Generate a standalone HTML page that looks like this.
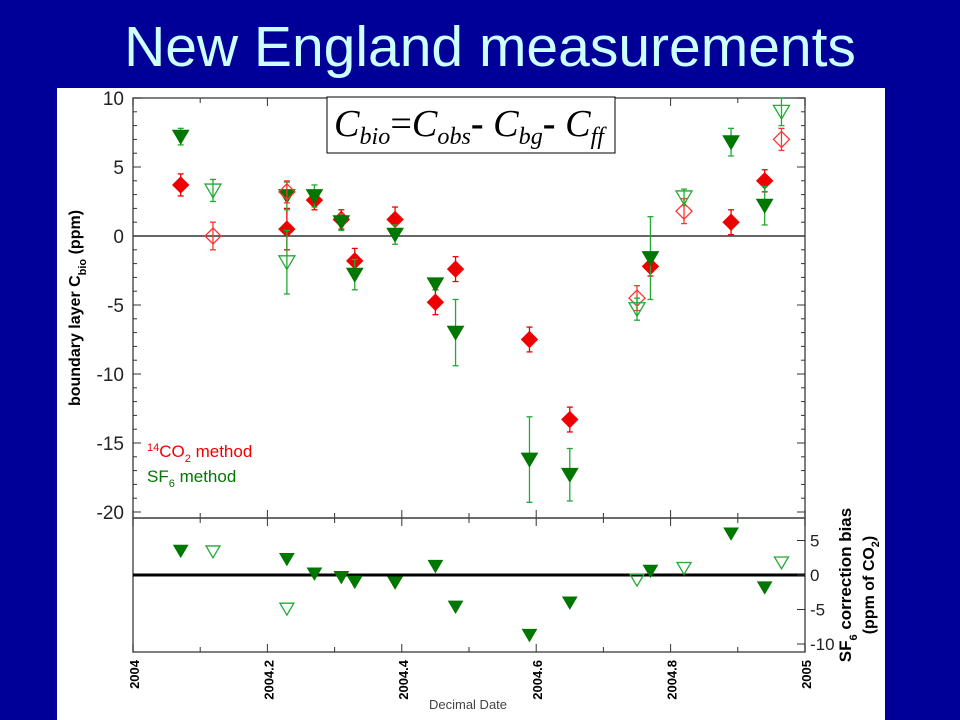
<!DOCTYPE html>
<html><head><meta charset="utf-8"><style>
html,body{margin:0;padding:0;background:#000099;width:960px;height:720px;overflow:hidden}
svg{display:block;font-family:"Liberation Sans",sans-serif}
</style></head><body>
<svg id="c" width="960" height="720">
<rect x="0" y="0" width="960" height="720" fill="#000099"/>
<text x="490" y="66" text-anchor="middle" font-size="57" fill="#ccffff">New England measurements</text>
<rect x="57" y="88" width="828" height="632" fill="#fff"/>
<g id="top"></g>
<g id="bot"></g>
<g>
<rect x="327" y="97" width="288" height="56" fill="#fff" stroke="#000" stroke-width="1"/>
<text x="334" y="136" font-family="Liberation Serif,serif" font-style="italic" font-size="38" textLength="270" lengthAdjust="spacingAndGlyphs">C<tspan font-size="24" dy="8">bio</tspan><tspan dy="-8" font-style="normal">=</tspan>C<tspan font-size="24" dy="8">obs</tspan><tspan dy="-8" font-style="normal" font-weight="bold">-</tspan> C<tspan font-size="24" dy="8">bg</tspan><tspan dy="-8" font-style="normal" font-weight="bold">-</tspan> C<tspan font-size="24" dy="8">ff</tspan></text>
</g>
<text x="147" y="457" font-size="17" fill="#ee0000"><tspan font-size="11" dy="-6">14</tspan><tspan dy="6">CO</tspan><tspan font-size="11" dy="5">2</tspan><tspan dy="-5"> method</tspan></text>
<text x="147" y="482" font-size="17" fill="#007700">SF<tspan font-size="11" dy="5">6</tspan><tspan dy="-5"> method</tspan></text>
<text transform="translate(80,308) rotate(-90)" text-anchor="middle" font-size="16" font-weight="bold">boundary layer C<tspan font-size="11" dy="6">bio</tspan><tspan dy="-6">  (ppm)</tspan></text>
<text transform="translate(851,585) rotate(-90)" text-anchor="middle" font-size="17" font-weight="bold">SF<tspan font-size="11" dy="6">6</tspan><tspan dy="-6"> correction bias</tspan></text>
<text transform="translate(874,585) rotate(-90)" text-anchor="middle" font-size="16" font-weight="bold">(ppm of CO<tspan font-size="11" dy="5">2</tspan><tspan dy="-5">)</tspan></text>
<text x="468" y="709" text-anchor="middle" font-size="13" fill="#444">Decimal Date</text>
</svg>
<script>
const dates=[2004.071,2004.119,2004.229,2004.229,2004.270,2004.310,2004.330,2004.390,2004.450,2004.480,2004.590,2004.650,2004.750,2004.770,2004.820,2004.890,2004.940,2004.965];
const sf6=[7.2,3.3,2.9,-1.9,2.9,1.0,-2.8,0.1,-3.5,-7.0,-16.2,-17.3,-5.3,-1.6,2.8,6.8,2.2,9.0];
const sf6Err=[0.6,0.8,1.0,2.3,0.8,0.6,1.1,0.7,0.4,2.4,3.1,1.9,0.8,3.0,0.6,1.0,1.4,1.0];
const co2=[3.7,0.0,0.5,3.2,2.6,1.2,-1.8,1.2,-4.8,-2.4,-7.5,-13.3,-4.5,-2.2,1.8,1.0,4.0,7.0];
const co2Err=[0.8,1.0,1.5,0.8,0.7,0.7,0.9,0.9,0.9,0.9,0.9,0.9,0.9,0.7,0.9,0.9,0.8,0.8];
const bias=[3.5,3.4,2.3,-4.9,0.2,-0.3,-1.0,-1.1,1.3,-4.6,-8.7,-4.0,-0.7,0.6,1.0,6.0,-1.8,1.8];
const filled=[1,0,1,0,1,1,1,1,1,1,1,1,0,1,0,1,1,0];
const xTicks=["2004","2004.2","2004.4","2004.6","2004.8","2005"];
const yTicks=[10,5,0,-5,-10,-15,-20];
const y2Ticks=[5,0,-5,-10];
const NS="http://www.w3.org/2000/svg";
const X=v=>133+(v-2004)*672;
const Y=v=>236-v*13.8;
const Y2=v=>575-v*6.9;
const gTop=document.getElementById('top'),gBot=document.getElementById('bot');
function mk(p,t,a){const e=document.createElementNS(NS,t);for(const k in a)e.setAttribute(k,a[k]);p.appendChild(e);return e;}
let f=mk(gTop,'rect',{x:133,y:98,width:672,height:420,fill:'none',stroke:'#555','stroke-width':1.5});


f=mk(gBot,'rect',{x:133,y:518,width:672,height:134,fill:'none',stroke:'#555','stroke-width':1.5});


let z=mk(gTop,'line',{x1:133,x2:805,y1:Y(0),y2:Y(0),stroke:'#333','stroke-width':1.5});


z=mk(gBot,'line',{x1:133,x2:805,y1:Y2(0),y2:Y2(0),stroke:'#000','stroke-width':3});


for(let i=0;i<=10;i++){const x=133+i*67.2;const L=i%2?5:8;
mk(gTop,'line',{x1:x,x2:x,y1:98,y2:98+L,stroke:'#333'});mk(gTop,'line',{x1:x,x2:x,y1:518,y2:518-L,stroke:'#333'});
mk(gBot,'line',{x1:x,x2:x,y1:518,y2:518+L,stroke:'#333'});mk(gBot,'line',{x1:x,x2:x,y1:652,y2:652-L,stroke:'#333'});}
xTicks.forEach(t=>{const x=X(parseFloat(t));const e=mk(gBot,'text',{transform:`translate(${x+6},${660}) rotate(-90)`,'text-anchor':'end','font-size':13,'font-weight':'bold'});e.textContent=t;

});
for(let v=10;v>=-20;v-=1){const y=Y(v);const L=v%5?4:8;mk(gTop,'line',{x1:133,x2:133+L,y1:y,y2:y,stroke:'#333'});mk(gTop,'line',{x1:805,x2:805-L,y1:y,y2:y,stroke:'#333'});}
yTicks.forEach(v=>{const e=mk(gTop,'text',{x:124,y:Y(v)+7,'text-anchor':'end','font-size':19,fill:'#222'});e.textContent=v;

});
y2Ticks.forEach(v=>{mk(gBot,'line',{x1:805,x2:797,y1:Y2(v),y2:Y2(v),stroke:'#333'});const e=mk(gBot,'text',{x:810,y:Y2(v)+6,'font-size':17,fill:'#222'});e.textContent=v;

});
function tri(p,x,y,s,fl,c){return mk(p,'path',{d:`M${x-s},${y-s*0.8} L${x+s},${y-s*0.8} L${x},${y+s*0.9} Z`,fill:fl?c:'none',stroke:c,'stroke-width':fl?1:1.3});}
function dia(p,x,y,s,fl,c){return mk(p,'path',{d:`M${x},${y-s} L${x+s},${y} L${x},${y+s} L${x-s},${y} Z`,fill:fl?c:'none',stroke:c,'stroke-width':fl?1:1.3});}
function eb(p,x,v,e,c){const a=Y(v-e),b=Y(v+e);mk(p,'line',{x1:x,x2:x,y1:a,y2:b,stroke:c,'stroke-width':1.3});mk(p,'line',{x1:x-3,x2:x+3,y1:a,y2:a,stroke:c,'stroke-width':1.3});mk(p,'line',{x1:x-3,x2:x+3,y1:b,y2:b,stroke:c,'stroke-width':1.3});}
const R='#ee0000',G='#007700',G2='#22aa33',R2='#ff3333';
dates.forEach((d,i)=>{const x=X(d);
eb(gTop,x,co2[i],co2Err[i],filled[i]?R:R2);
let m=dia(gTop,x,Y(co2[i]),8,filled[i],filled[i]?R:R2);


eb(gTop,x,sf6[i],sf6Err[i],G2);
m=tri(gTop,x,Y(sf6[i]),8,filled[i],filled[i]?G:G2);


m=tri(gBot,x,Y2(bias[i]),7,filled[i],filled[i]?G:G2);


});
</script>
</body></html>
